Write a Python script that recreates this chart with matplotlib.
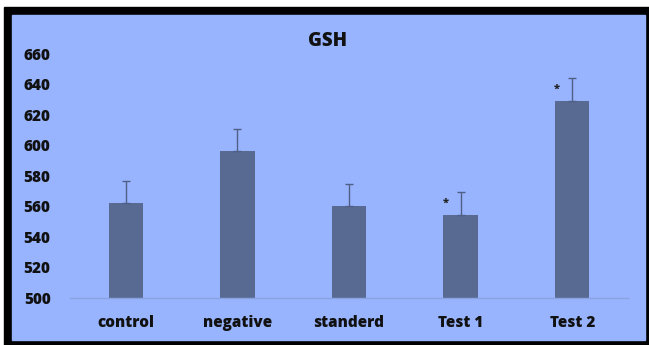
"""
    GSH bar chart with upper error bars
"""

import numpy as np
import matplotlib
matplotlib.use('AGG')
import matplotlib.pyplot as plt
from matplotlib.patches import Rectangle


groups = ['control', 'negative', 'standerd', 'Test 1', 'Test 2']
gsh_mean = [562, 596.5, 560.5, 554.5, 629.5]
gsh_err = [15, 14.5, 14.5, 15, 14.5]
signif = ['', '', '', '*', '*']
y_ticks = [500, 520, 540, 560, 580, 600, 620, 640, 660]


def main():
    plt.rcParams['font.family'] = ['Open Sans', 'DejaVu Sans']
    fig = plt.figure(figsize=(6.49, 3.45), dpi=100)
    fig.patch.set_facecolor('white')

    # black frame + blue panel (figure pixel coords)
    W, H = 649.0, 345.0
    fig.patches.append(Rectangle((4 / W, 0), 1 - 4 / W, (H - 7) / H,
                                 transform=fig.transFigure, color='black', zorder=-2))
    fig.patches.append(Rectangle((12 / W, 5 / H), (645 - 12) / W, (340 - 15) / H,
                                 transform=fig.transFigure, color='#99b4fe', zorder=-1))

    ax = fig.add_axes([70 / W, 47 / H, 558 / W, 244 / H])
    ax.set_zorder(2)
    ax.set_facecolor('none')

    x = np.arange(len(groups))
    ax.bar(x, gsh_mean, width=0.31, bottom=0, color='#586a92', zorder=2)
    ax.errorbar(x, gsh_mean, yerr=[np.zeros(len(gsh_err)), gsh_err], fmt='none',
                ecolor='#4f5f85', elinewidth=1, capsize=3, capthick=1, zorder=3)

    for xi, m, e, s in zip(x, gsh_mean, gsh_err, signif):
        if s:
            ax.text(xi - 0.135, m + 4, s, ha='center', va='bottom',
                    fontsize=8, fontweight='heavy', color='#222222')

    ax.set_xlim(-0.5, 4.5)
    ax.set_ylim(500, 660)
    ax.set_yticks(y_ticks)
    ax.set_xticks(x)
    ax.set_xticklabels(groups)
    for side in ['left', 'right', 'top']:
        ax.spines[side].set_visible(False)
    ax.spines['bottom'].set_color('#8aa3e0')
    ax.spines['bottom'].set_linewidth(1)
    ax.tick_params(axis='both', length=0, labelsize=11, colors='#111111')
    ax.tick_params(axis='y', pad=14)
    ax.tick_params(axis='x', pad=12)
    for lbl in ax.get_xticklabels() + ax.get_yticklabels():
        lbl.set_fontweight('heavy')

    fig.text(328 / W, 1 - 41 / H, 'GSH', ha='center', va='center',
             fontsize=13.5, fontweight='heavy', color='#111111')

    fig.savefig('out.png', dpi=100)


if __name__ == '__main__':
    main()
